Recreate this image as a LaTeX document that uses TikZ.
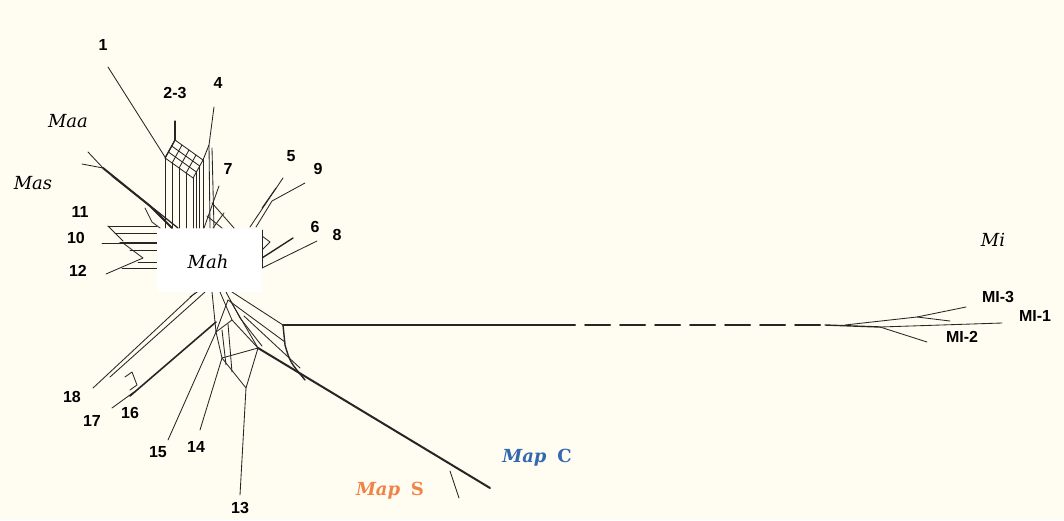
\documentclass[tikz,border=0pt]{standalone}
\usepackage{fontspec}
\setmainfont{Liberation Serif}
\newfontfamily\numfont{Liberation Sans}
\newfontfamily\taxfont{DejaVu Serif}
\definecolor{bgcol}{RGB}{255,253,242}
\colorlet{netcol}{black!85}
\definecolor{mapccol}{RGB}{52,104,176}
\definecolor{mapscol}{RGB}{240,132,72}
\tikzset{
  netline/.style={netcol, line width=0.85pt},
  heavyline/.style={netcol, line width=2pt},
  numlabel/.style={font=\numfont\bfseries\fontsize{16}{18}\selectfont, inner sep=1pt},
  taxlabel/.style={font=\taxfont\itshape\fontsize{18}{21}\selectfont, inner sep=1pt},
  maplabel/.style={font=\taxfont\bfseries\fontsize{18}{21}\selectfont, inner sep=1pt}
}

\begin{document}
\begin{tikzpicture}[x=1pt, y=-1pt, line join=round, line cap=round]

  % Background.
  \fill[bgcol] (0,0) rectangle (1064,520);
  \useasboundingbox (0,0) rectangle (1064,520);

  % Upper fan: 1, 2-3, 4, 7.
  \draw[netline] (108,67) -- (165,157);
  \draw[heavyline, line width=1.3pt] (175,121) -- (175,140);
  \foreach \j in {0,...,3} {
    \draw[netline] ({175-3.3*\j},{140+6*\j}) -- ({203-3.3*\j},{160+6*\j});
  }
  \foreach \i in {0,...,4} {
    \draw[netline] ({175+7*\i},{140+5*\i}) -- ({165.1+7*\i},{158+5*\i});
  }
  \draw[heavyline, line width=1.3pt] (175,140) -- (165.1,158);
  \foreach \i in {0,...,4} {
    \draw[netline] ({165.1+7*\i},{158+5*\i}) -- ({165.1+7*\i},228);
  }
  \foreach \j in {1,2} {
    \draw[netline] ({193.1+3.3*\j},{178-6*\j}) -- ({193.1+3.3*\j},228);
  }
  \draw[netline] (203,160) -- (203,228);
  \draw[netline] (214,107) -- (209,145) -- (203,160);
  \draw[netline] (209,145) -- (210,228);
  \draw[netline] (212,148) -- (214,228);
  % 7
  \draw[netline] (219,186) -- (204,228);
  \draw[netline] (212,203) -- (234,228);
  \draw[netline] (207,216) -- (222,228);
  \draw[netline] (224,213) -- (213,228);

  % Maa and Mas.
  \draw[netline] (88,152) -- (103,168);
  \draw[netline] (82,164) -- (103,168);
  \draw[heavyline] (103,168) -- (150,206) -- (172,228);
  \draw[heavyline, line width=1.3pt] (112,176) -- (158,212) -- (178,228);
  \draw[netline] (145,208) -- (152,222) -- (160,228);
  \draw[netline] (150,206) -- (165,220);

  % 11, 10, 12.
  \draw[netline] (108,226) -- (157,226);
  \draw[netline] (108,226) -- (123,241);
  \draw[netline] (115,233) -- (157,233);
  \draw[netline] (102,243) -- (157,243);
  \draw[heavyline, line width=1.6pt] (120,243) -- (157,243);
  \draw[netline] (123,243) -- (143,258) -- (106,274);
  \draw[netline] (130,250) -- (157,250);
  \draw[netline] (138,262) -- (157,262);
  \draw[netline] (122,268) -- (157,268);

  % 5, 9, 6, 8.
  \draw[netline] (283,178) -- (250,227);
  \draw[netline] (305,183) -- (272,201) -- (256,227);
  \draw[netline] (276,188) -- (262,208);
  \draw[netline] (262,230) -- (262,268);
  \draw[netline] (262,236) -- (270,242) -- (262,250);
  \draw[heavyline, line width=1.4pt] (293,238) -- (262,258);
  \draw[netline] (317,241) -- (262,268);

  % Lower fan: 18, 17, 16, 15, 14, 13.
  \draw[netline] (93,388) -- (195,293);
  \draw[netline] (110,377) -- (205,292);
  \draw[netline] (125,377) -- (132,372) -- (137,385) -- (130,390);
  \draw[netline] (112,408) -- (134,392);
  \draw[heavyline, line width=1.6pt] (130,396) -- (216,322);
  \draw[netline] (190,297) -- (200,290);
  \draw[netline] (168,440) -- (216,332);
  \draw[netline] (200,430) -- (222,358);
  \draw[netline] (240,495) -- (246,388);
  % mesh of the lower fan
  \draw[netline] (212,292) -- (216,332) -- (222,358) -- (246,388) -- (258,348) -- (230,300);
  \draw[netline] (216,332) -- (228,300);
  \draw[netline] (220,292) -- (232,320) -- (258,348);
  \draw[netline] (226,292) -- (240,318) -- (262,346);
  \draw[netline] (222,330) -- (226,365);
  \draw[netline] (228,324) -- (232,372);
  \draw[netline] (216,332) -- (232,320);
  \draw[netline] (222,358) -- (258,348);
  \draw[netline] (232,292) -- (283,325);
  \draw[netline] (228,300) -- (285,342);
  \draw[netline] (244,316) -- (300,368);
  \draw[heavyline, line width=1.4pt] (283,325) -- (285,345) .. controls (290,362) .. (305,380);

  % Map C and Map S.
  \draw[heavyline] (258,348) -- (490,488);
  \draw[netline] (450,471) -- (459,498);

  % Mi branch.
  \draw[heavyline] (283,325) -- (575,325);
  \draw[heavyline, dash pattern=on 25pt off 10pt] (585,325) -- (825,325);
  \draw[heavyline, line width=1.4pt] (825,325) -- (880,327);
  \draw[netline] (880,327) -- (1002,323);
  \draw[netline] (880,327) -- (927,342);
  \draw[netline] (845,325) -- (917,317) -- (966,307);
  \draw[netline] (917,317) -- (950,321);

  % Centre box.
  \fill[white] (157,229) rectangle (262,292);

  % Labels.
  \node[numlabel] (n1) at (103,45) {1};
  \node[numlabel] (n23) at (175,93) {2-3};
  \node[numlabel] (n4) at (218,83) {4};
  \node[numlabel] (n7) at (228,169) {7};
  \node[numlabel] (n5) at (291,156) {5};
  \node[numlabel] (n9) at (318,169) {9};
  \node[numlabel] (n6) at (315,227) {6};
  \node[numlabel] (n8) at (337,235) {8};
  \node[numlabel] (n11) at (80,212) {11};
  \node[numlabel] (n10) at (76,238) {10};
  \node[numlabel] (n12) at (78,271) {12};
  \node[numlabel] (n18) at (72,397) {18};
  \node[numlabel] (n17) at (92,421) {17};
  \node[numlabel] (n16) at (130,413) {16};
  \node[numlabel] (n15) at (158,452) {15};
  \node[numlabel] (n14) at (196,447) {14};
  \node[numlabel] (n13) at (240,508) {13};
  \node[numlabel] (mi3) at (998,297) {MI-3};
  \node[numlabel] (mi1) at (1035,316) {MI-1};
  \node[numlabel] (mi2) at (962,337) {MI-2};
  \node[taxlabel] (maa) at (68,121) {Maa};
  \node[taxlabel] (mas) at (33,183) {Mas};
  \node[taxlabel] (mah) at (208,262) {Mah};
  \node[taxlabel] (mi) at (993,240) {Mi};
  \node[maplabel, text=mapccol] (mapc) at (537,458) {\textit{Map}\hspace{0.6em}C};
  \node[maplabel, text=mapscol] (maps) at (390,491) {\textit{Map}\hspace{0.6em}S};

\end{tikzpicture}
\end{document}
